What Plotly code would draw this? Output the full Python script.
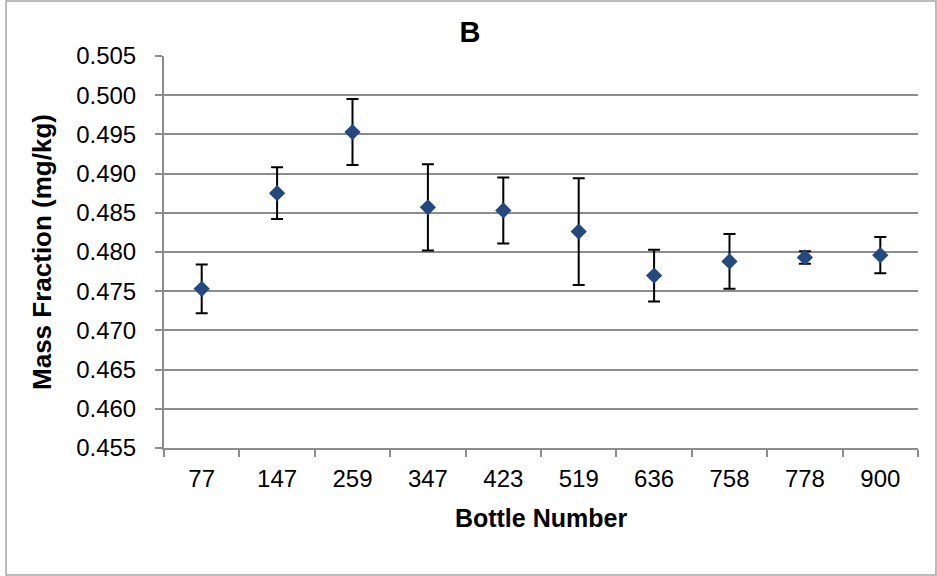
import plotly.graph_objects as go

bottles = ["77", "147", "259", "347", "423", "519", "636", "758", "778", "900"]
mass_fraction = [0.4753, 0.4875, 0.4953, 0.4857, 0.4853, 0.4826, 0.4770, 0.4788, 0.4793, 0.4796]
uncertainty = [0.0031, 0.0033, 0.0042, 0.0055, 0.0042, 0.0068, 0.0033, 0.0035, 0.0008, 0.0023]
y_ticks = [0.455, 0.460, 0.465, 0.470, 0.475, 0.480, 0.485, 0.490, 0.495, 0.500, 0.505]

W, H = 937, 576
L, R, T, B = 164, 19, 56, 128
pw, ph = W - L - R, H - T - B

fig = go.Figure()
fig.add_trace(go.Scatter(
    x=bottles, y=mass_fraction, mode="markers",
    marker=dict(symbol="diamond", size=12.5, color="#24497f"),
    error_y=dict(type="data", array=uncertainty, visible=True,
                 color="black", thickness=2, width=6),
    showlegend=False,
))

font = "Liberation Sans, Arial, sans-serif"
fig.update_layout(
    width=W, height=H,
    margin=dict(l=L, r=R, t=T, b=B),
    paper_bgcolor="white", plot_bgcolor="white",
    font=dict(family=font, color="black", size=24),
    title=dict(text="<b>B</b>", x=470 / W, xanchor="center",
               y=1 - 32 / H, yanchor="middle", font=dict(size=29)),
    xaxis=dict(
        type="category", tickson="boundaries",
        showline=True, linecolor="#8c8c8c", linewidth=2,
        ticks="outside", ticklen=7, tickcolor="#8c8c8c", tickwidth=2,
        showgrid=False, tickfont=dict(size=24), ticklabelstandoff=8,
        title=dict(text="<b>Bottle Number</b>", font=dict(size=25), standoff=19),
        range=[-0.5, 9.5],
    ),
    yaxis=dict(
        range=[0.455, 0.505], tickvals=y_ticks,
        ticktext=[f"{v:.3f}" for v in y_ticks],
        showline=True, linecolor="#8c8c8c", linewidth=2,
        ticks="outside", ticklen=7, tickcolor="#8c8c8c", tickwidth=2,
        showgrid=True, gridcolor="#8c8c8c", gridwidth=2,
        zeroline=False, tickfont=dict(size=24), ticklabelstandoff=14,
        title=dict(text="<b>Mass Fraction (mg/kg)</b>", font=dict(size=26), standoff=17),
    ),
    shapes=[dict(type="rect", xref="paper", yref="paper",
                 x0=(6 - L) / pw, x1=(936 - L) / pw,
                 y0=(H - B - 575) / ph, y1=(H - B - 1) / ph,
                 line=dict(color="#a6a6a6", width=1.5), fillcolor="rgba(0,0,0,0)",
                 layer="below")],
)
fig.write_html("out.html")
